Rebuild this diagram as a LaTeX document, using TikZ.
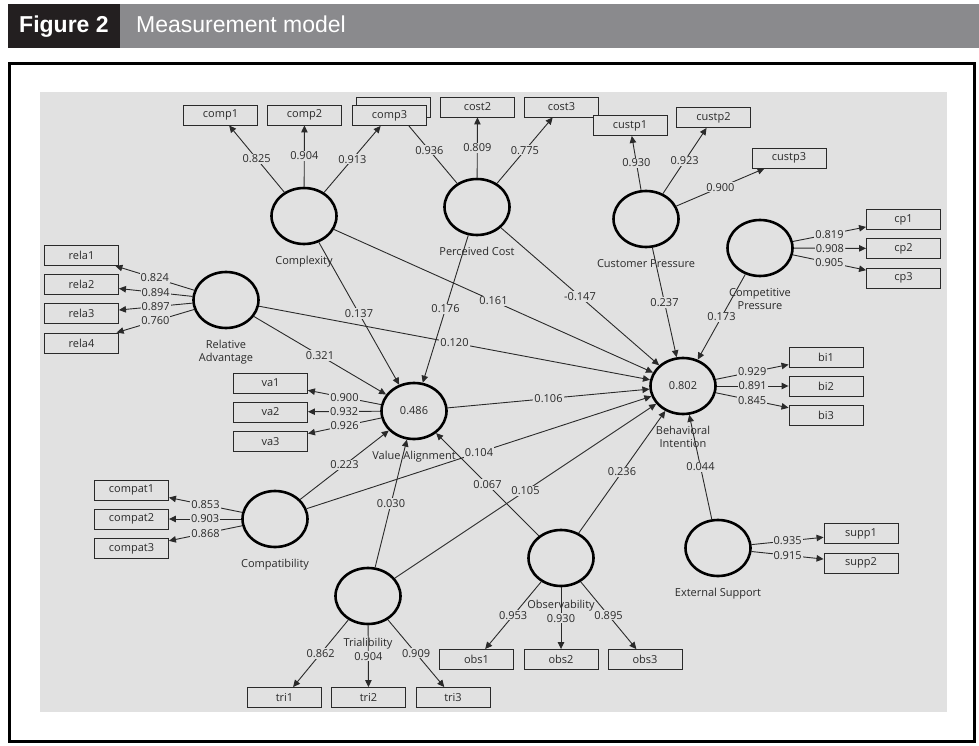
\documentclass[tikz,border=0pt]{standalone}
\usepackage{fontspec}
\setmainfont{Open Sans}
\newfontfamily\headfont{Liberation Sans}
\usetikzlibrary{arrows.meta,shapes.geometric}
\definecolor{bg}{HTML}{E1E1E1}
\definecolor{hdark}{HTML}{231F20}
\definecolor{hgray}{HTML}{8A8A8D}
\definecolor{ln}{HTML}{2A2A2A}
\begin{document}
\begin{tikzpicture}[x=1pt,y=-1pt,
  ind/.style={draw=ln, line width=0.9pt, fill=bg, minimum width=74pt, minimum height=20pt, inner sep=0pt, text=ln, font=\fontsize{11}{12}\selectfont},
  lat/.style={draw=black, fill=bg, ellipse, line width=2.6pt, minimum width=65pt, minimum height=56pt, inner sep=0pt, text=ln, font=\fontsize{11}{12}\selectfont},
  latlab/.style={anchor=north, inner sep=0pt, align=center, text=ln, font=\fontsize{11}{13}\selectfont},
  ld/.style={draw=ln, line width=0.9pt, -{Triangle[length=7pt,width=6.5pt]}},
  lab/.style={fill=bg, inner sep=1pt, text=ln, font=\fontsize{11}{12}\selectfont},
  hd/.style={anchor=base west, inner sep=0pt, text=white}]
\useasboundingbox (0,0) rectangle (979,746);
% header
\fill[hdark] (8,4) rectangle (120,48);
\fill[hgray] (120,4) rectangle (979,48);
\node[hd, font=\headfont\fontsize{23}{26}\selectfont\bfseries] (fig) at (19,33) {Figure 2};
\node[hd, font=\headfont\fontsize{23}{26}\selectfont] (ttl) at (136,33) {Measurement model};
% frame and panel
\draw[line width=3pt] (9,63.5) rectangle (974,741.5);
\fill[bg] (40,92) rectangle (947,712);
% latent variables
\node[lat] (cx) at (304,216) {};
\node[lat] (pc) at (477,207) {};
\node[lat] (cp) at (646,219) {};
\node[lat] (cmp) at (760,248) {};
\node[lat] (ra) at (226,300) {};
\node[lat] (va) at (414,411) {0.486};
\node[lat] (bi) at (683,386) {0.802};
\node[lat] (es) at (718,548) {};
\node[lat] (cb) at (275,519) {};
\node[lat] (tr) at (368,596) {};
\node[lat] (ob) at (561,558) {};
% indicator boxes
\node[ind] (cost1) at (393,107) {\raisebox{-5pt}[7pt][2pt]{cost1}};
\node[ind] (cost2) at (477.5,107) {cost2};
\node[ind] (cost3) at (561.5,107) {cost3};
\node[ind] (comp1) at (220.5,115) {comp1};
\node[ind] (comp2) at (304.5,115) {comp2};
\node[ind] (custp1) at (630,125.5) {custp1};
\node[ind] (custp2) at (713.5,117.5) {custp2};
\node[ind] (custp3) at (789,158) {custp3};
\node[ind] (cp1) at (903.5,219.5) {cp1};
\node[ind] (cp2) at (903.5,248.5) {cp2};
\node[ind] (cp3) at (903.5,278) {cp3};
\node[ind] (rela1) at (81.5,255.5) {rela1};
\node[ind] (rela2) at (81.5,284.5) {rela2};
\node[ind] (rela3) at (81.5,313.5) {rela3};
\node[ind] (rela4) at (81.5,343) {rela4};
\node[ind] (va1) at (270.5,383) {va1};
\node[ind] (va2) at (270.5,412) {va2};
\node[ind] (va3) at (270.5,441.5) {va3};
\node[ind] (bi1) at (826,357) {bi1};
\node[ind] (bi2) at (826,386) {bi2};
\node[ind] (bi3) at (826,415.5) {bi3};
\node[ind] (supp1) at (861,533.5) {supp1};
\node[ind] (supp2) at (861,563) {supp2};
\node[ind] (compat1) at (131.5,490) {compat1};
\node[ind] (compat2) at (131.5,519) {compat2};
\node[ind] (compat3) at (131.5,548.5) {compat3};
\node[ind] (tri1) at (284.5,697.5) {tri1};
\node[ind] (tri2) at (368.5,697.5) {tri2};
\node[ind] (tri3) at (453,697.5) {tri3};
\node[ind] (obs1) at (476.5,659.5) {obs1};
\node[ind] (obs2) at (561,659.5) {obs2};
\node[ind] (obs3) at (645,659.5) {obs3};
% structural paths
\draw[ld] (cx) -- node[lab]{0.137} (va);
\draw[ld] (cx) -- node[lab]{0.161} (bi);
\draw[ld] (pc) -- node[lab]{0.176} (va);
\draw[ld] (pc) -- node[lab]{-0.147} (bi);
\draw[ld] (cp) -- node[lab]{0.237} (bi);
\draw[ld] (cmp) -- node[lab]{0.173} (bi);
\draw[ld] (ra) -- node[lab]{0.321} (va);
\draw[ld] (ra) -- node[lab]{0.120} (bi);
\draw[ld] (va) -- node[lab]{0.106} (bi);
\draw[ld] (cb) -- node[lab]{0.223} (va);
\draw[ld] (cb) -- node[lab]{0.104} (bi);
\draw[ld] (tr) -- node[lab]{0.030} (va);
\draw[ld] (tr) -- node[lab]{0.105} (bi);
\draw[ld] (ob) -- node[lab]{0.067} (va);
\draw[ld] (ob) -- node[lab]{0.236} (bi);
\draw[ld] (es) -- node[lab]{0.044} (bi);
% outer loadings
\draw[ld] (cx) -- node[lab]{0.825} (comp1);
\draw[ld] (cx) -- node[lab]{0.904} (comp2);
\draw[ld] (pc) -- node[lab]{0.936} (cost1);
\draw[ld] (pc) -- node[lab]{0.809} (cost2);
\draw[ld] (pc) -- node[lab]{0.775} (cost3);
\draw[ld] (cp) -- node[lab]{0.930} (custp1);
\draw[ld] (cp) -- node[lab]{0.923} (custp2);
\draw[ld] (cp) -- node[lab]{0.900} (custp3);
\draw[ld] (cmp) -- node[lab]{0.819} (cp1);
\draw[ld] (cmp) -- node[lab]{0.908} (cp2);
\draw[ld] (cmp) -- node[lab]{0.905} (cp3);
\draw[ld] (ra) -- node[lab]{0.824} (rela1);
\draw[ld] (ra) -- node[lab]{0.894} (rela2);
\draw[ld] (ra) -- node[lab]{0.897} (rela3);
\draw[ld] (ra) -- node[lab]{0.760} (rela4);
\draw[ld] (va) -- node[lab]{0.900} (va1);
\draw[ld] (va) -- node[lab]{0.932} (va2);
\draw[ld] (va) -- node[lab]{0.926} (va3);
\draw[ld] (bi) -- node[lab]{0.929} (bi1);
\draw[ld] (bi) -- node[lab]{0.891} (bi2);
\draw[ld] (bi) -- node[lab]{0.845} (bi3);
\draw[ld] (es) -- node[lab]{0.935} (supp1);
\draw[ld] (es) -- node[lab]{0.915} (supp2);
\draw[ld] (cb) -- node[lab]{0.853} (compat1);
\draw[ld] (cb) -- node[lab]{0.903} (compat2);
\draw[ld] (cb) -- node[lab]{0.868} (compat3);
\draw[ld] (tr) -- node[lab]{0.862} (tri1);
\draw[ld] (tr) -- node[lab]{0.904} (tri2);
\draw[ld] (tr) -- node[lab]{0.909} (tri3);
\draw[ld] (ob) -- node[lab]{0.953} (obs1);
\draw[ld] (ob) -- node[lab]{0.930} (obs2);
\draw[ld] (ob) -- node[lab]{0.895} (obs3);
% comp3 box sits over cost1
\node[ind] (comp3) at (389.5,115.5) {comp3};
\draw[ld] (cx) -- node[lab]{0.913} (comp3);
% latent labels
\node[latlab] (cxl) at (304,256) {Complexity};
\node[latlab] (pcl) at (477,247) {Perceived Cost};
\node[latlab] (cpl) at (646,259) {Customer Pressure};
\node[latlab] (cmpl) at (760,288) {Competitive\\Pressure};
\node[latlab] (ral) at (226,340) {Relative\\Advantage};
\node[latlab] (val) at (414,451) {Value Alignment};
\node[latlab] (bil) at (683,426) {Behavioral\\Intention};
\node[latlab] (esl) at (718,588) {External Support};
\node[latlab] (cbl) at (275,559) {Compatibility};
\node[latlab] (trl) at (368,638) {Trialibility};
\node[latlab] (obl) at (561,600) {Observability};
\end{tikzpicture}
\end{document}
